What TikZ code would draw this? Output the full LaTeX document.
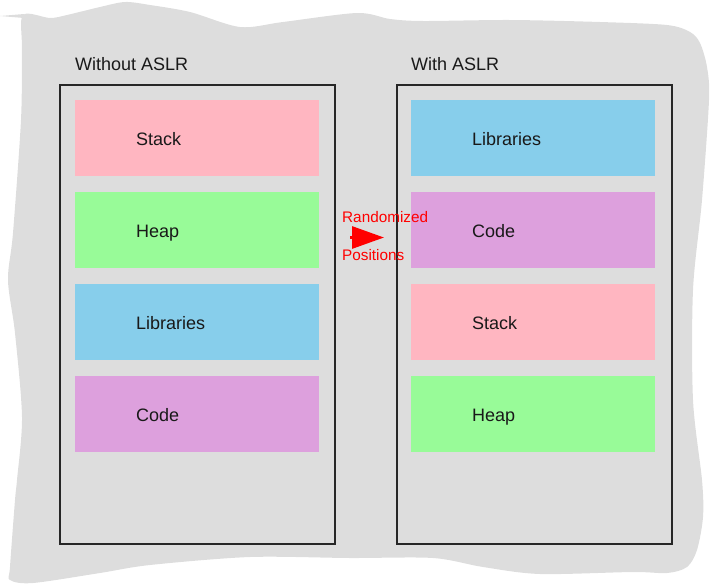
\documentclass[tikz,border=0pt]{standalone}
\usepackage{fontspec}
\setmainfont{Liberation Sans}
\usetikzlibrary{arrows.meta}
\definecolor{bggray}{HTML}{DDDDDD}
\definecolor{cpink}{HTML}{FFB6C1}
\definecolor{cgreen}{HTML}{98FB98}
\definecolor{cblue}{HTML}{87CEEB}
\definecolor{cplum}{HTML}{DDA0DD}
\definecolor{cred}{HTML}{FF0000}
\tikzset{
  outerbox/.style={draw=black!85, line width=1.6pt, fill=none},
  membox/.style={draw=none, minimum width=244pt, minimum height=76pt, inner sep=0pt, outer sep=0pt},
  memtext/.style={anchor=base west, inner sep=0pt, font=\fontsize{18}{21}\selectfont, text=black!90},
  title/.style={anchor=base west, inner sep=0pt, font=\fontsize{18}{21}\selectfont, text=black!90},
  redtext/.style={anchor=base west, inner sep=0pt, font=\fontsize{15.3}{17}\selectfont, text=cred},
  bigarrow/.style={draw=cred, line width=3pt, -{Triangle[length=32pt, width=22pt, fill=cred]}}
}
\begin{document}
\begin{tikzpicture}[x=1pt,y=-1pt]
\useasboundingbox (0,0) rectangle (710,584);
% background paper
\fill[bggray] plot[smooth cycle, tension=0.5] coordinates {
 (23,15) (50,18) (67,15) (100,7) (125,2) (150,5) (190,12) (240,27) (283,22)
 (357,13) (390,19) (423,21) (510,20) (600,22) (667,25) (690,32) (700,43)
 (707,67) (709,100) (702,200) (693,290) (693,400) (702,480) (703,517)
 (697,550) (687,567) (667,573) (633,572) (540,574) (483,567) (433,558)
 (350,558) (250,557) (150,565) (100,573) (33,583) (10,580) (10,567)
 (15,500) (17,480) (22,417) (15,333) (8,280) (13,233) (21,120) (22,50)};
\fill[bggray] (0,16) -- (24,14) -- (24,18) -- cycle;
% titles
\node[title] (t1) at (75,70) {Without ASLR};
\node[title] (t2) at (411,70) {With ASLR};
% outer boxes
\node[outerbox, minimum width=275pt, minimum height=459pt, inner sep=0pt, anchor=north west] (ob1) at (59,84) {};
\node[outerbox, minimum width=275pt, minimum height=459pt, inner sep=0pt, anchor=north west] (ob2) at (396,84) {};
% left column
\node[membox, fill=cpink]  (l1) at (197,138) {};
\node[membox, fill=cgreen] (l2) at (197,230) {};
\node[membox, fill=cblue]  (l3) at (197,322) {};
\node[membox, fill=cplum]  (l4) at (197,413.5) {};
\node[memtext] (l1t) at ([xshift=61pt,yshift=-7.5pt]l1.west) {Stack};
\node[memtext] (l2t) at ([xshift=61pt,yshift=-7.5pt]l2.west) {Heap};
\node[memtext] (l3t) at ([xshift=61pt,yshift=-7.5pt]l3.west) {Libraries};
\node[memtext] (l4t) at ([xshift=61pt,yshift=-7.5pt]l4.west) {Code};
% right column
\node[membox, fill=cblue]  (r1) at (533,138) {};
\node[membox, fill=cplum]  (r2) at (533,230) {};
\node[membox, fill=cpink]  (r3) at (533,322) {};
\node[membox, fill=cgreen] (r4) at (533,413.5) {};
\node[memtext] (r1t) at ([xshift=61pt,yshift=-7.5pt]r1.west) {Libraries};
\node[memtext] (r2t) at ([xshift=61pt,yshift=-7.5pt]r2.west) {Code};
\node[memtext] (r3t) at ([xshift=61pt,yshift=-7.5pt]r3.west) {Stack};
\node[memtext] (r4t) at ([xshift=61pt,yshift=-7.5pt]r4.west) {Heap};
% arrow
\coordinate (atail) at (350,237.5);
\coordinate (atip) at (384,237.5);
\draw[bigarrow] (atail) -- (atip);
\node[redtext] (rt1) at (342,222.3) {Randomized};
\node[redtext] (rt2) at (342,260.7) {Positions};
\end{tikzpicture}
\end{document}
